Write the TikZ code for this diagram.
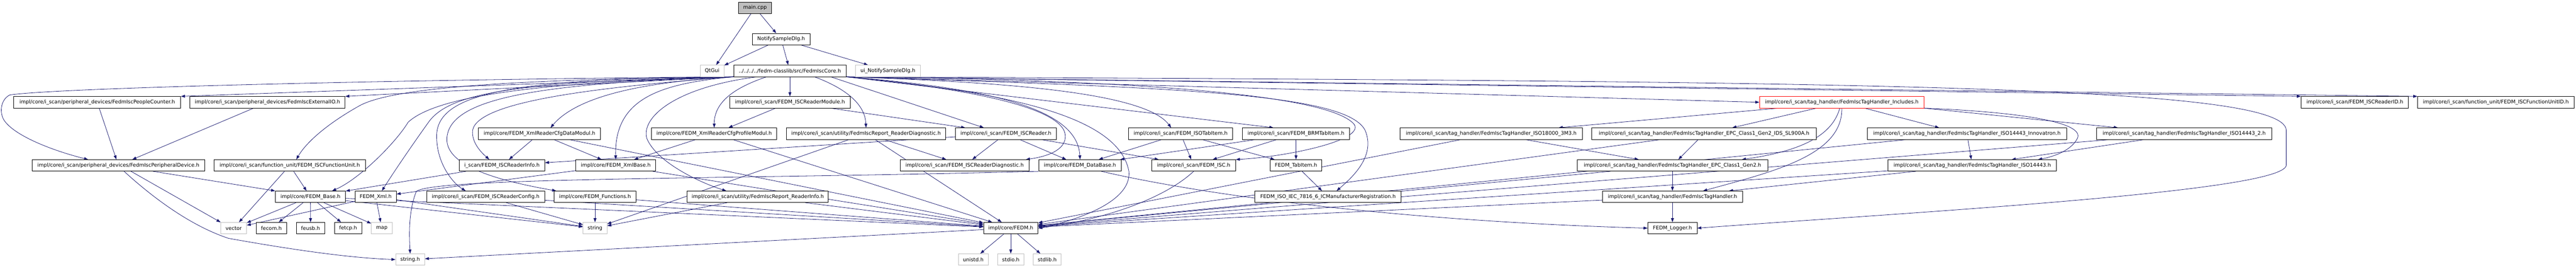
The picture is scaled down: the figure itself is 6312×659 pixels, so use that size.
\documentclass[tikz,border=0pt]{standalone}
\usepackage{fontspec}
\setmainfont{DejaVu Sans}
\usetikzlibrary{arrows.meta}
\definecolor{edgeblue}{HTML}{191970}
\definecolor{undocgray}{HTML}{BFBFBF}
\pgfdeclarelayer{background}
\pgfsetlayers{background,main}
\tikzstyle{hdr}=[draw=black, line width=1pt, fill=white, minimum height=28pt, inner xsep=4pt, inner ysep=0pt, font=\fontsize{12.5}{14}\selectfont]
\tikzstyle{syshdr}=[hdr, draw=undocgray]
\tikzstyle{inc}=[draw=edgeblue, line width=1pt, -{Triangle[length=10pt,width=7pt]}]
% rank heights, measured from the top
\def\rowa{-19}
\def\rowb{-96}
\def\rowc{-174}
\def\rowd{-251}
\def\rowe{-328}
\def\rowf{-406}
\def\rowg{-483}
\def\rowh{-560}
\def\rowi{-637}
\begin{document}
\begin{tikzpicture}[x=1pt,y=1pt]
\useasboundingbox (0,0) rectangle (6312,-659);
% ranks 1-3
\node[hdr, fill=undocgray, minimum width=81.5pt] (main) at (1850,\rowa) {main.cpp};
\node[hdr, minimum width=141pt] (dlg) at (1914,\rowb) {NotifySampleDlg.h};
\node[syshdr, minimum width=58.5pt] (qtgui) at (1745,\rowc) {QtGui};
\node[hdr, minimum width=274.5pt] (core) at (1935.5,\rowc) {../../../../fedm-classlib/src/FedmIscCore.h};
\node[syshdr, minimum width=158.5pt] (uidlg) at (2175.5,\rowc) {ui\_NotifySampleDlg.h};
% rank 4
\node[hdr, minimum width=409pt] (pcount) at (238.3,\rowd) {impl/core/i\_scan/peripheral\_devices/FedmIscPeopleCounter.h};
\node[hdr, minimum width=380pt] (extio) at (655.5,\rowd) {impl/core/i\_scan/peripheral\_devices/FedmIscExternalIO.h};
\node[hdr, minimum width=294.7pt] (rmodule) at (1935.5,\rowd) {impl/core/i\_scan/FEDM\_ISCReaderModule.h};
\node[hdr, draw=red, minimum width=403pt] (thincl) at (4513,\rowd) {impl/core/i\_scan/tag\_handler/FedmIscTagHandler\_Includes.h};
\node[hdr, minimum width=263pt] (readerid) at (5770,\rowd) {impl/core/i\_scan/FEDM\_ISCReaderID.h};
\node[hdr, minimum width=383.5pt] (funitid) at (6115.5,\rowd) {impl/core/i\_scan/function\_unit/FEDM\_ISCFunctionUnitID.h};
% rank 5
\node[hdr, minimum width=299pt] (cfgdata) at (1322,\rowe) {impl/core/FEDM\_XmlReaderCfgDataModul.h};
\node[hdr, minimum width=307pt] (cfgprof) at (1750,\rowe) {impl/core/FEDM\_XmlReaderCfgProfileModul.h};
\node[hdr, minimum width=391pt] (rptdiag) at (2122,\rowe) {impl/core/i\_scan/utility/FedmIscReport\_ReaderDiagnostic.h};
\node[hdr, minimum width=248pt] (reader) at (2464.7,\rowe) {impl/core/i\_scan/FEDM\_ISCReader.h};
\node[hdr, minimum width=256pt] (isotab) at (2892.7,\rowe) {impl/core/i\_scan/FEDM\_ISOTabItem.h};
\node[hdr, minimum width=263pt] (brmtab) at (3175.5,\rowe) {impl/core/i\_scan/FEDM\_BRMTabItem.h};
\node[hdr, minimum width=447pt] (th3m3) at (3654,\rowe) {impl/core/i\_scan/tag\_handler/FedmIscTagHandler\_ISO18000\_3M3.h};
\node[hdr, minimum width=551pt] (thsl900) at (4175.5,\rowe) {impl/core/i\_scan/tag\_handler/FedmIscTagHandler\_EPC\_Class1\_Gen2\_IDS\_SL900A.h};
\node[hdr, minimum width=488pt] (thinnov) at (4819.5,\rowe) {impl/core/i\_scan/tag\_handler/FedmIscTagHandler\_ISO14443\_Innovatron.h};
\node[hdr, minimum width=429pt] (th14443b) at (5351.7,\rowe) {impl/core/i\_scan/tag\_handler/FedmIscTagHandler\_ISO14443\_2.h};
% rank 6
\node[hdr, minimum width=423pt] (periph) at (290,\rowf) {impl/core/i\_scan/peripheral\_devices/FedmIscPeripheralDevice.h};
\node[hdr, minimum width=370.5pt] (funit) at (710,\rowf) {impl/core/i\_scan/function\_unit/FEDM\_ISCFunctionUnit.h};
\node[hdr, minimum width=209.5pt] (rinfo) at (1230,\rowf) {i\_scan/FEDM\_ISCReaderInfo.h};
\node[hdr, minimum width=196pt] (xmlbase) at (1508.7,\rowf) {impl/core/FEDM\_XmlBase.h};
\node[hdr, minimum width=315.7pt] (rdiag) at (2363.5,\rowf) {impl/core/i\_scan/FEDM\_ISCReaderDiagnostic.h};
\node[hdr, minimum width=202.6pt] (database) at (2646.4,\rowf) {impl/core/FEDM\_DataBase.h};
\node[hdr, minimum width=205.5pt] (isc) at (2924.8,\rowf) {impl/core/i\_scan/FEDM\_ISC.h};
\node[hdr, minimum width=126.6pt] (tabitem) at (3175.7,\rowf) {FEDM\_TabItem.h};
\node[hdr, minimum width=467pt] (thgen2) at (4098,\rowf) {impl/core/i\_scan/tag\_handler/FedmIscTagHandler\_EPC\_Class1\_Gen2.h};
\node[hdr, minimum width=413pt] (th14443) at (4832.7,\rowf) {impl/core/i\_scan/tag\_handler/FedmIscTagHandler\_ISO14443.h};
% rank 7
\node[hdr, minimum width=172pt] (fbase) at (760.7,\rowg) {impl/core/FEDM\_Base.h};
\node[hdr, minimum width=101pt] (fxml) at (920.7,\rowg) {FEDM\_Xml.h};
\node[hdr, minimum width=289pt] (rconfig) at (1190,\rowg) {impl/core/i\_scan/FEDM\_ISCReaderConfig.h};
\node[hdr, minimum width=200pt] (funcs) at (1458,\rowg) {impl/core/FEDM\_Functions.h};
\node[hdr, minimum width=346pt] (rptinfo) at (1856.7,\rowg) {impl/core/i\_scan/utility/FedmIscReport\_ReaderInfo.h};
\node[hdr, minimum width=359pt] (icmanu) at (3254,\rowg) {FEDM\_ISO\_IEC\_7816\_6\_ICManufacturerRegistration.h};
\node[hdr, minimum width=342.6pt] (thbase) at (4098,\rowg) {impl/core/i\_scan/tag\_handler/FedmIscTagHandler.h};
% rank 8
\node[syshdr, minimum width=63pt] (vector) at (572.6,\rowh) {vector};
\node[hdr, minimum width=75pt] (fecom) at (665,\rowh) {fecom.h};
\node[hdr, minimum width=70pt] (feusb) at (761,\rowh) {feusb.h};
\node[hdr, minimum width=67pt] (fetcp) at (853,\rowh) {fetcp.h};
\node[syshdr, minimum width=51pt] (map) at (935.5,\rowh) {map};
\node[syshdr, minimum width=58.5pt] (string) at (1458,\rowh) {string};
\node[hdr, minimum width=133.5pt] (fedm) at (2476.7,\rowh) {impl/core/FEDM.h};
\node[hdr, minimum width=120.4pt] (logger) at (4098,\rowh) {FEDM\_Logger.h};
% rank 9
\node[syshdr, minimum width=71pt] (stringh) at (1005,\rowi) {string.h};
\node[syshdr, minimum width=73.4pt] (unistd) at (2384.7,\rowi) {unistd.h};
\node[syshdr, minimum width=65pt] (stdio) at (2476.7,\rowi) {stdio.h};
\node[syshdr, minimum width=67.6pt] (stdlib) at (2566,\rowi) {stdlib.h};

\begin{pgfonlayer}{background}
% plain includes
\foreach \src/\dst in {main/qtgui, main/dlg, dlg/qtgui, dlg/core, dlg/uidlg, core/rmodule,
  pcount/periph, extio/periph, funit/vector, funit/fbase,
  fbase/vector, fbase/fecom, fbase/feusb, fbase/fetcp, fbase/map, fbase/string, fbase/fedm,
  fxml/vector, fxml/map, fxml/string, cfgdata/rinfo, cfgdata/xmlbase, cfgdata/fedm,
  rinfo/fbase, xmlbase/fxml, xmlbase/fedm, rconfig/string, rconfig/fedm, funcs/string, funcs/fedm,
  rmodule/cfgprof, rmodule/reader, cfgprof/xmlbase, cfgprof/fedm,
  rptdiag/rdiag, rptdiag/fedm, rptdiag/string, rptinfo/string, rptinfo/fedm,
  reader/rdiag, reader/database, reader/isc, reader/rinfo,
  isotab/database, isotab/isc, isotab/tabitem, brmtab/database, brmtab/isc, brmtab/tabitem,
  tabitem/icmanu, fedm/unistd, fedm/stdio, fedm/stdlib, fedm/stringh,
  th3m3/thgen2, th3m3/fedm, thsl900/thgen2, thsl900/fedm, thgen2/thbase, thgen2/fedm,
  thbase/logger, thbase/fedm, th14443/thbase, th14443/fedm, thinnov/th14443, thinnov/fedm,
  th14443b/th14443, th14443b/fedm}
  \draw[inc] (\src) -- (\dst);

% FedmIscCore.h fans out
\draw[inc] (core.south west) -- (pcount.north east);
\draw[inc] (core.south west) -- (extio.north east);
\draw[inc] (core.south west) .. controls (1000,-195) and (150,-215) .. (24,-233)
  .. controls (0,-245) and (-2,-280) .. (12,-298)
  .. controls (40,-335) and (130,-370) .. ([xshift=-74pt]periph.north);
\draw[inc] (core.south west) .. controls (1250,-195) and (960,-215) .. (880,-260)
  .. controls (800,-305) and (750,-350) .. ([xshift=16pt]funit.north);
\draw[inc] (core.south west) .. controls (1400,-200) and (1080,-225) .. (1000,-300)
  .. controls (970,-350) and (880,-440) .. ([xshift=53pt]fbase.north);
\draw[inc] (core.south west) .. controls (1250,-200) and (1100,-230) .. (1050,-300)
  .. controls (1000,-370) and (960,-430) .. ([xshift=15pt]fxml.north);
\draw[inc] (core.south west) .. controls (1600,-200) and (1420,-230) .. ([xshift=27pt]cfgdata.north);
\draw[inc] (core.south west) .. controls (1450,-215) and (1170,-250) .. (1158,-320)
  .. controls (1155,-350) and (1180,-375) .. ([xshift=-31pt]rinfo.north);
\draw[inc] (core.south west) .. controls (1620,-205) and (1505,-240) .. (xmlbase.north);
\draw[inc] (core.south west) .. controls (1250,-192) and (1075,-230) .. (1070,-330)
  .. controls (1068,-400) and (1110,-450) .. ([xshift=-49pt]rconfig.north);
\draw[inc] (core.south west) .. controls (1320,-205) and (1100,-240) .. (1095,-340)
  .. controls (1092,-410) and (1230,-445) .. ([xshift=-95pt]funcs.north);
\draw[inc] ([xshift=-57pt]core.south) .. controls (1800,-215) and (1750,-250) .. (cfgprof.north);
\draw[inc] ([xshift=-80pt]core.south) .. controls (1650,-215) and (1570,-290) .. (1585,-340)
  .. controls (1610,-400) and (1720,-450) .. ([xshift=-77pt]rptinfo.north);
\draw[inc] ([xshift=60pt]core.south) .. controls (2080,-220) and (2120,-260) .. (rptdiag.north);
\draw[inc] ([xshift=100pt]core.south) -- ([xshift=-54pt]reader.north);
\draw[inc] (core.south east) .. controls (2350,-215) and (2600,-260) .. (2610,-330)
  .. controls (2615,-370) and (2560,-385) .. ([xshift=150pt]rdiag.north);
\draw[inc] (core.south east) .. controls (2400,-215) and (2640,-260) .. (database.north);
\draw[inc] (core.south east) .. controls (2450,-225) and (2740,-280) .. (2766,-420)
  .. controls (2775,-500) and (2620,-545) .. (fedm.east);
\draw[inc] (core.south east) .. controls (2400,-200) and (2800,-220) .. ([xshift=-23pt]isotab.north);
\draw[inc] (core.south east) -- ([xshift=-55pt]brmtab.north);
\draw[inc] (core.south east) .. controls (2700,-195) and (3250,-225) .. (3318,-305)
  .. controls (3345,-345) and (3150,-385) .. (isc.north east);
\draw[inc] (core.south east) .. controls (2900,-215) and (3300,-230) .. (3345,-320)
  .. controls (3370,-380) and (3320,-430) .. ([xshift=21pt]icmanu.north);
\draw[inc] (core.south east) -- (thincl.west);
\draw[inc] (core.south east) -- (readerid.north west);
\draw[inc] (core.south east) -- (funitid.north west);
\draw[inc] (core.south east) .. controls (4500,-200) and (5600,-205) .. (5602,-320) -- (5602,-405)
  .. controls (5602,-470) and (4700,-520) .. (logger.east);

% peripheral device
\draw[inc] ([xshift=85pt]periph.south) -- (fbase.north west);
\draw[inc] ([xshift=31pt]periph.south) -- (vector.north west);
\draw[inc] ([xshift=14pt]periph.south) .. controls (380,-490) and (470,-555) .. (560,-585)
  .. controls (700,-610) and (850,-633) .. (stringh.west);

% data base, ISC
\draw[inc] (database.south west) .. controls (1800,-440) and (1060,-435) .. (1020,-470)
  .. controls (1000,-520) and (1003,-580) .. (stringh.north);
\draw[inc] ([xshift=52pt]database.south) .. controls (3000,-490) and (3500,-545) .. (logger.west);
\draw[inc] (isc.south) .. controls (2850,-490) and (2700,-540) .. (fedm.east);

% tag handler includes
\draw[inc] ([xshift=-155pt]thincl.south) -- ([xshift=165pt]th3m3.north);
\draw[inc] ([xshift=-62pt]thincl.south) -- ([xshift=69pt]thsl900.north);
\draw[inc] ([xshift=-5pt]thincl.south) .. controls (4490,-330) and (4420,-370) .. ([xshift=170pt]thgen2.north);
\draw[inc] (thincl.south) .. controls (4515,-380) and (4350,-420) .. ([xshift=75pt]thbase.north);
\draw[inc] ([xshift=56pt]thincl.south) -- ([xshift=-68pt]thinnov.north);
\draw[inc] (thincl.south east) -- ([xshift=53pt]th14443b.north west);
\draw[inc] (thincl.south east) .. controls (4950,-275) and (5110,-300) .. (5090,-340)
  .. controls (5075,-370) and (5030,-385) .. ([xshift=161pt]th14443.north);
\end{pgfonlayer}
\end{tikzpicture}
\end{document}
